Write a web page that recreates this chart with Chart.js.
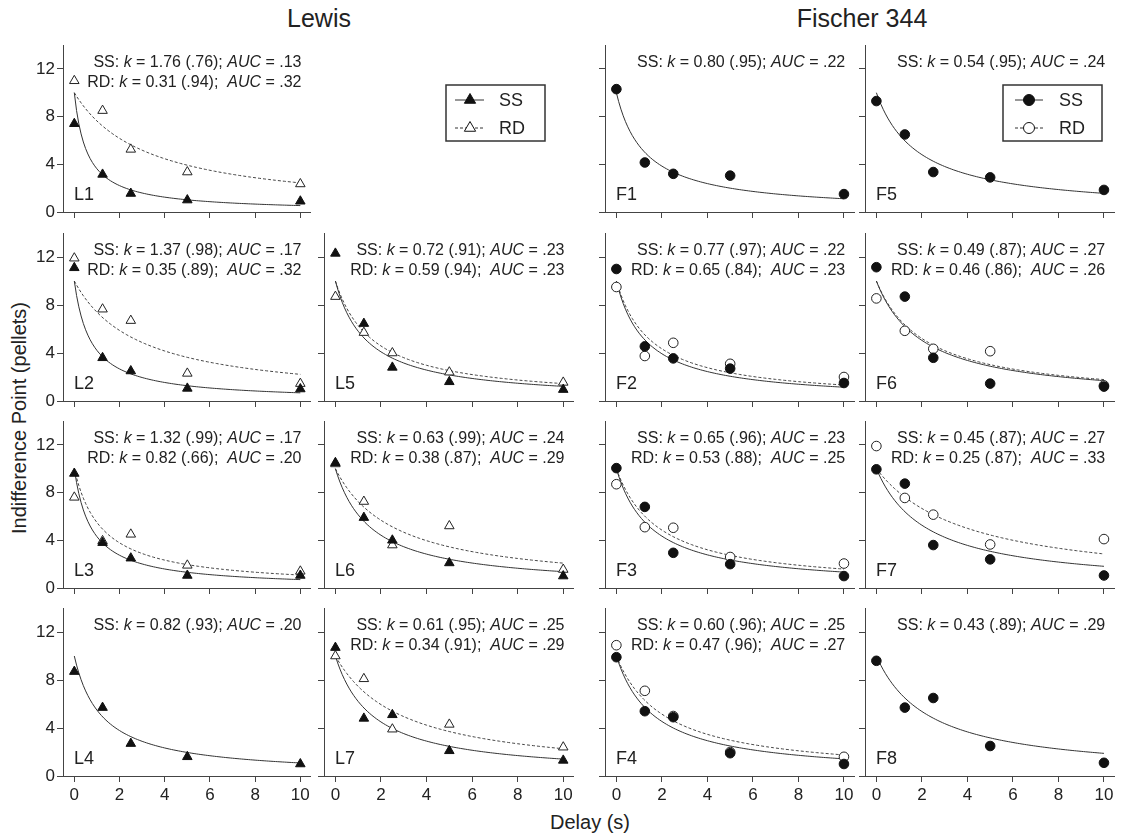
<!DOCTYPE html>
<html>
<head>
<meta charset="utf-8">
<script src="https://cdn.jsdelivr.net/npm/chart.js@4.4.1/dist/chart.umd.min.js"></script>
<style>
  body { margin: 0; background: #fff; }
  #fig { position: relative; width: 1128px; height: 836px; font-family: 'Liberation Sans', Arial, sans-serif; color: #222; overflow: hidden; }
  #fig canvas { position: absolute; }
  .lbl { position: absolute; white-space: nowrap; transform: translate(-50%, -50%); }
  .group { font-size: 25px; }
  .axis { font-size: 20px; }
</style>
</head>
<body>
<div id="fig">
  <div class="lbl group" style="left:319px; top:18px;">Lewis</div>
  <div class="lbl group" style="left:862px; top:18px;">Fischer 344</div>
  <div class="lbl axis" style="left:19px; top:418px; transform: translate(-50%, -50%) rotate(-90deg);">Indifference Point (pellets)</div>
  <div class="lbl axis" style="left:590px; top:822px;">Delay (s)</div>
</div>
<script>
// Delay-discounting panels, Lewis vs Fischer 344 rats

const delays = [0, 1.25, 2.5, 5, 10];
const xTicks = [0, 2, 4, 6, 8, 10];
const yTicks = [0, 4, 8, 12];
const amount = 10; // pellets at zero delay, used by the hyperbolic fit

const panelNames = ['L1', 'L2', 'L3', 'L4', 'L5', 'L6', 'L7',
                    'F1', 'F2', 'F3', 'F4', 'F5', 'F6', 'F7', 'F8'];

// indifference points (SS = solid, RD = dashed)
const ssL1 = [7.4, 3.15, 1.55, 1.0, 0.9];
const rdL1 = [11.0, 8.5, 5.25, 3.35, 2.35];
const ssL2 = [11.1, 3.6, 2.5, 1.05, 1.0];
const rdL2 = [11.9, 7.65, 6.7, 2.3, 1.45];
const ssL3 = [9.6, 3.8, 2.5, 1.05, 1.05];
const rdL3 = [7.6, 3.95, 4.5, 1.9, 1.4];
const ssL4 = [8.7, 5.7, 2.7, 1.6, 1.0];
const ssL5 = [12.3, 6.45, 2.8, 1.6, 0.95];
const rdL5 = [8.7, 5.7, 4.0, 2.4, 1.55];
const ssL6 = [10.5, 5.9, 4.0, 2.1, 1.0];
const rdL6 = [10.4, 7.25, 3.6, 5.2, 1.55];
const ssL7 = [10.7, 4.8, 5.1, 2.1, 1.3];
const rdL7 = [10.0, 8.1, 3.9, 4.3, 2.4];
const ssF1 = [10.3, 4.15, 3.2, 3.05, 1.5];
const ssF2 = [11.0, 4.55, 3.55, 2.7, 1.5];
const rdF2 = [9.5, 3.75, 4.85, 3.1, 2.0];
const ssF3 = [10.05, 6.8, 2.95, 2.0, 1.0];
const rdF3 = [8.7, 5.1, 5.05, 2.6, 2.05];
const ssF4 = [9.9, 5.4, 4.9, 1.9, 1.0];
const rdF4 = [10.9, 7.1, 5.0, 2.0, 1.6];
const ssF5 = [9.3, 6.5, 3.35, 2.9, 1.85];
const ssF6 = [11.15, 8.7, 3.6, 1.45, 1.2];
const rdF6 = [8.55, 5.85, 4.35, 4.15, 1.3];
const ssF7 = [9.95, 8.75, 3.6, 2.4, 1.05];
const rdF7 = [11.9, 7.55, 6.15, 3.65, 4.1];
const ssF8 = [9.6, 5.7, 6.5, 2.5, 1.1];

// fit parameters printed in each panel (same order as panelNames)
const kSS   = [1.76, 1.37, 1.32, 0.82, 0.72, 0.63, 0.61, 0.80, 0.77, 0.65, 0.60, 0.54, 0.49, 0.45, 0.43];
const r2SS  = ['.76', '.98', '.99', '.93', '.91', '.99', '.95', '.95', '.97', '.96', '.96', '.95', '.87', '.87', '.89'];
const aucSS = ['.13', '.17', '.17', '.20', '.23', '.24', '.25', '.22', '.22', '.23', '.25', '.24', '.27', '.27', '.29'];
const kRD   = [0.31, 0.35, 0.82, null, 0.59, 0.38, 0.34, null, 0.65, 0.53, 0.47, null, 0.46, 0.25, null];
const r2RD  = ['.94', '.89', '.66', null, '.94', '.87', '.91', null, '.84', '.88', '.96', null, '.86', '.87', null];
const aucRD = ['.32', '.32', '.20', null, '.23', '.29', '.29', null, '.23', '.25', '.27', null, '.26', '.33', null];

const ssData = { L1: ssL1, L2: ssL2, L3: ssL3, L4: ssL4, L5: ssL5, L6: ssL6, L7: ssL7,
                 F1: ssF1, F2: ssF2, F3: ssF3, F4: ssF4, F5: ssF5, F6: ssF6, F7: ssF7, F8: ssF8 };
const rdData = { L1: rdL1, L2: rdL2, L3: rdL3, L5: rdL5, L6: rdL6, L7: rdL7,
                 F2: rdF2, F3: rdF3, F4: rdF4, F6: rdF6, F7: rdF7 };

// grid placement of each panel: [column, row]
const slot = { L1: [0, 0], L2: [0, 1], L3: [0, 2], L4: [0, 3], L5: [1, 1], L6: [1, 2], L7: [1, 3],
               F1: [2, 0], F2: [2, 1], F3: [2, 2], F4: [2, 3], F5: [3, 0], F6: [3, 1], F7: [3, 2], F8: [3, 3] };
const colLeft = [63, 324, 605, 865];
const colRight = [313, 576, 856, 1116];
const rowTop = [45, 233, 421, 608];
const rowBottom = [212, 401, 588, 776];

const FONT = "'Liberation Sans', Arial, sans-serif";
Chart.defaults.font.family = FONT;
Chart.defaults.color = '#222';

function fitCurve(k) {
    const pts = [];
    for (let i = 0; i <= 100; i++) {
        const d = i / 10;
        pts.push({ x: d, y: amount / (1 + k * d) });
    }
    return pts;
}

function statLine(tag, k, r2, auc, gap) {
    return [
        { t: tag + ': ' }, { t: 'k', it: true },
        { t: ' = ' + k.toFixed(2) + ' (' + r2 + ');' + gap }, { t: 'AUC', it: true },
        { t: ' = ' + auc }
    ];
}

const panelText = {
    id: 'panelText',
    afterDraw(chart, args, opts) {
        const { ctx, chartArea: a } = chart;
        ctx.save();
        ctx.fillStyle = '#222';
        ctx.textBaseline = 'middle';
        ctx.textAlign = 'left';
        opts.lines.forEach((segs, i) => {
            const y = a.top + 18 + i * 20;
            let w = 0;
            segs.forEach(s => {
                ctx.font = (s.it ? 'italic ' : '') + '16px ' + FONT;
                w += ctx.measureText(s.t).width;
            });
            let x = a.right - 9 - w;
            segs.forEach(s => {
                ctx.font = (s.it ? 'italic ' : '') + '16px ' + FONT;
                ctx.fillText(s.t, x, y);
                x += ctx.measureText(s.t).width;
            });
        });
        ctx.font = '18px ' + FONT;
        ctx.fillText(opts.label, a.left + 11, a.bottom - 17);
        ctx.restore();
    }
};

const fig = document.getElementById('fig');

panelNames.forEach((name, idx) => {
    const [col, row] = slot[name];
    const isLewis = name[0] === 'L';
    const shape = isLewis ? 'triangle' : 'circle';
    const rad = isLewis ? 5.5 : 4.8;

    const padTop = 8, padRight = 4, yW = 40, xH = 32;
    const cv = document.createElement('canvas');
    const w = colRight[col] - colLeft[col] + yW + padRight;
    const h = rowBottom[row] - rowTop[row] + padTop + xH;
    cv.width = w; cv.height = h;
    cv.style.left = (colLeft[col] - yW) + 'px';
    cv.style.top = (rowTop[row] - padTop) + 'px';
    cv.style.width = w + 'px'; cv.style.height = h + 'px';
    fig.appendChild(cv);

    const datasets = [];
    const lines = [];
    const hasRD = kRD[idx] !== null;

    datasets.push({
        data: delays.map((d, i) => ({ x: d, y: ssData[name][i] })),
        showLine: false, pointStyle: shape, pointRadius: rad,
        backgroundColor: '#111', borderColor: '#111', borderWidth: 1, clip: false
    });
    if (hasRD) {
        datasets.push({
            data: delays.map((d, i) => ({ x: d, y: rdData[name][i] })),
            showLine: false, pointStyle: shape, pointRadius: rad,
            backgroundColor: '#fff', borderColor: '#222', borderWidth: 1, clip: false
        });
    }
    datasets.push({
        data: fitCurve(kSS[idx]), showLine: true, pointRadius: 0,
        borderColor: '#333', borderWidth: 1
    });
    lines.push(statLine('SS', kSS[idx], r2SS[idx], aucSS[idx], ' '));
    if (hasRD) {
        datasets.push({
            data: fitCurve(kRD[idx]), showLine: true, pointRadius: 0,
            borderColor: '#444', borderWidth: 1, borderDash: [3, 2]
        });
        lines.push(statLine('RD', kRD[idx], r2RD[idx], aucRD[idx], '  '));
    }

    new Chart(cv, {
        type: 'scatter',
        data: { datasets },
        plugins: [panelText],
        options: {
            responsive: false,
            animation: false,
            events: [],
            layout: { padding: { top: padTop, right: padRight, left: 0, bottom: 0 } },
            plugins: {
                legend: { display: false },
                tooltip: { enabled: false },
                panelText: { lines, label: name }
            },
            scales: {
                x: {
                    type: 'linear', min: -0.5, max: 10.45,
                    afterBuildTicks: s => { s.ticks = xTicks.map(v => ({ value: v })); },
                    afterFit: s => { s.height = xH; s.paddingLeft = 0; s.paddingRight = 0; },
                    border: { color: '#444', width: 1 },
                    grid: { drawOnChartArea: false, drawTicks: true, tickLength: 6, color: '#444' },
                    ticks: { display: row === 3, color: '#222', font: { size: 17 }, padding: 3, maxRotation: 0, autoSkip: false }
                },
                y: {
                    type: 'linear', min: 0, max: 14,
                    afterBuildTicks: s => { s.ticks = yTicks.map(v => ({ value: v })); },
                    afterFit: s => { s.width = yW; s.paddingTop = 0; s.paddingBottom = 0; },
                    border: { color: '#444', width: 1 },
                    grid: { drawOnChartArea: false, drawTicks: true, tickLength: 6, color: '#444' },
                    ticks: { display: col === 0, color: '#222', font: { size: 17 }, padding: 2 }
                }
            }
        }
    });
});

// legends (one per strain)
function drawLegend(left, top, shape, rad, lineX0, lineX1, markX, textX) {
    const cv = document.createElement('canvas');
    cv.width = 112; cv.height = 66;
    cv.style.left = left + 'px'; cv.style.top = top + 'px';
    fig.appendChild(cv);
    const ctx = cv.getContext('2d');
    ctx.fillStyle = '#fff';
    ctx.fillRect(6, 5, 99, 56);
    ctx.strokeStyle = '#333';
    ctx.lineWidth = 1.5;
    ctx.strokeRect(6, 5, 99, 56);
    const rows = [
        { y: 20, text: 'SS', fill: '#111', dash: [] },
        { y: 48, text: 'RD', fill: '#fff', dash: [3, 2] }
    ];
    rows.forEach(r => {
        ctx.save();
        ctx.strokeStyle = '#333';
        ctx.lineWidth = 1;
        ctx.setLineDash(r.dash);
        ctx.beginPath();
        ctx.moveTo(lineX0, r.y);
        ctx.lineTo(lineX1, r.y);
        ctx.stroke();
        ctx.setLineDash([]);
        ctx.fillStyle = r.fill;
        ctx.strokeStyle = '#111';
        Chart.helpers.drawPoint(ctx, { pointStyle: shape, radius: rad, rotation: 0, borderWidth: 1 }, markX, r.y);
        ctx.restore();
        ctx.fillStyle = '#222';
        ctx.font = '18px ' + FONT;
        ctx.textBaseline = 'middle';
        ctx.fillText(r.text, textX, r.y + 1);
    });
}
drawLegend(440, 80, 'triangle', 6.5, 15, 44, 30, 59);
drawLegend(997, 80, 'circle', 5.5, 18, 46, 32, 62);
</script>
</body>
</html>
